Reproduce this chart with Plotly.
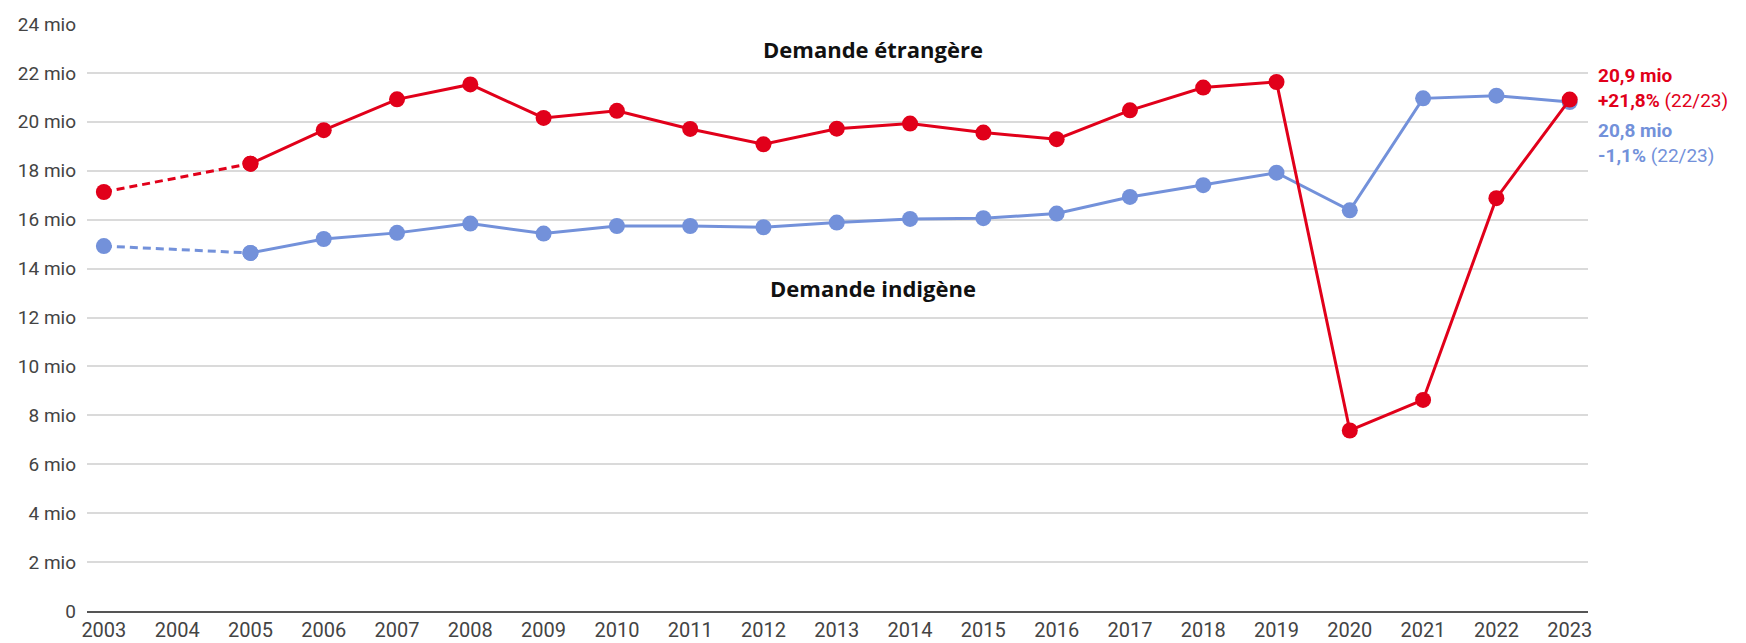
import plotly.graph_objects as go

years = list(range(2003, 2024))
years_main = [y for y in years if y >= 2005]

# Demande étrangère (mio de nuitées)
foreign_start = [17.13, 18.29]          # 2003, 2005 (dashed gap)
foreign = [18.29, 19.66, 20.92, 21.53, 20.16, 20.45, 19.71, 19.08, 19.72, 19.93,
           19.56, 19.29, 20.47, 21.40, 21.63, 7.38, 8.63, 16.88, 20.91]
# Demande indigène
domestic_start = [14.92, 14.64]
domestic = [14.64, 15.21, 15.46, 15.84, 15.43, 15.74, 15.74, 15.69, 15.88, 16.03,
            16.06, 16.25, 16.93, 17.41, 17.92, 16.38, 20.96, 21.07, 20.81]
gap_years = [2003, 2005]

y_ticks = list(range(0, 25, 2))
y_ticktext = ["0"] + [f"{v} mio" for v in y_ticks[1:]]

RED = "#E1001A"
BLUE = "#7391DA"
FONT = "Roboto"

fig = go.Figure()

def add_series(xs_gap, ys_gap, xs, ys, color):
    fig.add_trace(go.Scatter(x=xs_gap, y=ys_gap, mode="lines+markers",
                             line=dict(color=color, width=3, dash="8px,5px"),
                             marker=dict(color=color, size=16), hoverinfo="skip"))
    fig.add_trace(go.Scatter(x=xs, y=ys, mode="lines+markers",
                             line=dict(color=color, width=3),
                             marker=dict(color=color, size=16)))

add_series(gap_years, domestic_start, years_main, domestic, BLUE)
add_series(gap_years, foreign_start, years_main, foreign, RED)

fig.add_annotation(x=2013.5, y=22.97, text="<b>Demande étrangère</b>", showarrow=False,
                   font=dict(family="Open Sans", size=22, color="#111"))
fig.add_annotation(x=2013.5, y=13.19, text="<b>Demande indigène</b>", showarrow=False,
                   font=dict(family="Open Sans", size=22, color="#111"))
fig.add_annotation(x=2023, y=21.37, xshift=26, xanchor="left", align="left",
                   text="<b>20,9 mio</b><br><b>+21,8%</b> (22/23)", showarrow=False,
                   font=dict(family=FONT, size=19, color=RED))
fig.add_annotation(x=2023, y=19.12, xshift=26, xanchor="left", align="left",
                   text="<b>20,8 mio</b><br><b>-1,1%</b> (22/23)", showarrow=False,
                   font=dict(family=FONT, size=19, color=BLUE))

fig.update_layout(
    width=1746, height=643,
    margin=dict(l=79, r=166, t=16, b=40),
    paper_bgcolor="white", plot_bgcolor="white",
    showlegend=False,
    font=dict(family=FONT, size=18, color="#444"),
    xaxis=dict(range=[2002.77, 2023.25], tickmode="array", tickvals=years,
               showgrid=False, showline=True, linecolor="#555", linewidth=2,
               ticks="", zeroline=False, automargin=False,
               tickfont=dict(size=20, color="#444")),
    yaxis=dict(range=[0, 24], tickmode="array", tickvals=y_ticks, ticktext=y_ticktext,
               showgrid=True, gridcolor="#DADADA", gridwidth=2, zeroline=False,
               ticks="", ticklabelstandoff=10, automargin=False,
               tickfont=dict(size=19, color="#444")),
)

fig.write_html("out.html")
